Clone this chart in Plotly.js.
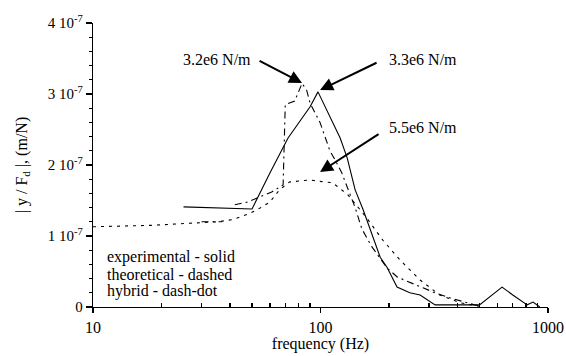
<!DOCTYPE html>
<html>
<head>
<meta charset="utf-8">
<script src="https://cdn.plot.ly/plotly-3.0.1.min.js"></script>
<style>html,body{margin:0;padding:0;background:#fff;}#chart{width:566px;height:356px;}</style>
</head>
<body>
<div id="chart"></div>
<script>
// values in units of 1e-7 m/N
const expFreq = [25, 50, 60, 72, 90, 97.5, 122, 131, 142, 154, 183, 196, 217, 247, 274, 319, 500, 628, 700, 810, 860, 920];
const expAmp  = [1.41, 1.38, 1.89, 2.38, 2.82, 3.03, 2.38, 2.10, 1.65, 1.37, 0.70, 0.56, 0.28, 0.20, 0.17, 0.03, 0.03, 0.28, 0.17, 0.03, 0.07, 0.0];

const theoFreq = [10, 18, 35, 41, 49, 54, 60, 66, 73, 90, 99, 113, 132, 160, 188, 224, 274, 334, 411, 500];
const theoAmp  = [1.13, 1.15, 1.20, 1.23, 1.32, 1.39, 1.48, 1.65, 1.76, 1.79, 1.77, 1.75, 1.58, 1.25, 0.94, 0.66, 0.38, 0.17, 0.06, 0.01];

const hybFreq = [30, 37, null, 42, 48, 54, 61, 68.5, 70, 77, 83, 87, 90, 99.5, 105, 110, 116, 124, 131, 142, 152, 168, 196, 218, 282, 319, 370, 440, 500];
const hybAmp  = [1.20, 1.20, null, 1.44, 1.48, 1.55, 1.62, 1.72, 2.85, 2.90, 3.15, 3.05, 2.87, 2.60, 2.38, 2.20, 2.07, 1.89, 1.69, 1.40, 1.10, 0.85, 0.55, 0.42, 0.27, 0.20, 0.13, 0.06, 0.01];

const yTickVals = [0, 1, 2, 3, 4];
const yTickText = ['0', '1 10<sup>-7</sup>', '2 10<sup>-7</sup>', '3 10<sup>-7</sup>', '4 10<sup>-7</sup>'];
const yMinorVals = [0.2, 0.4, 0.6, 0.8, 1.2, 1.4, 1.6, 1.8, 2.2, 2.4, 2.6, 2.8, 3.2, 3.4, 3.6, 3.8];
const xTickVals = [10, 100, 1000];
const xTickText = ['10', '100', '1000'];
const xMinorVals = [20, 30, 40, 50, 60, 70, 80, 90, 200, 300, 400, 500, 600, 700, 800, 900];
const legendLines = ['experimental - solid', 'theoretical - dashed', 'hybrid - dash-dot'];
const stiffLabels = ['3.2e6 N/m', '3.3e6 N/m', '5.5e6 N/m'];

const serif = '"Liberation Serif", "Times New Roman", serif';

const traces = [
  {x: expFreq, y: expAmp, mode: 'lines', line: {color: '#000', width: 1.1}, name: 'experimental'},
  {x: theoFreq, y: theoAmp, mode: 'lines', line: {color: '#000', width: 1.1, dash: '3px,5px'}, name: 'theoretical'},
  {x: hybFreq, y: hybAmp, mode: 'lines', connectgaps: false, line: {color: '#000', width: 1.1, dash: '7px,4px,2px,4px'}, name: 'hybrid'},
  // invisible trace that carries the overlay axes used for minor ticks
  {x: [], y: [], xaxis: 'x2', yaxis: 'y2', mode: 'lines', hoverinfo: 'skip'}
];

const legendAnn = legendLines.map((t, i) => ({
  xref: 'paper', yref: 'paper', x: 0.026, y: (307 - 257 - 17 * i) / 284,
  xanchor: 'left', yanchor: 'middle', align: 'left', showarrow: false,
  text: t, font: {family: serif, size: 16, color: '#000'}
}));

const layout = {
  width: 566, height: 356,
  margin: {l: 93, r: 18, t: 23, b: 49},
  paper_bgcolor: '#fff', plot_bgcolor: '#fff',
  showlegend: false,
  font: {family: serif, size: 15, color: '#000'},
  xaxis: {
    type: 'log', range: [1, 3],
    tickmode: 'array', tickvals: xTickVals, ticktext: xTickText,
    ticks: 'outside', ticklen: 5, tickwidth: 1.2, tickcolor: '#000',
    showline: true, linecolor: '#000', linewidth: 1.3,
    showgrid: false, zeroline: false,
    tickfont: {family: serif, size: 16, color: '#000'},
    title: {text: 'frequency (Hz)', font: {family: serif, size: 16, color: '#000'}, standoff: 2}
  },
  yaxis: {
    range: [0, 4],
    tickmode: 'array', tickvals: yTickVals, ticktext: yTickText,
    ticks: 'outside', ticklen: 6, tickwidth: 1.2, tickcolor: '#000',
    showline: true, linecolor: '#000', linewidth: 1.3,
    showgrid: false, zeroline: false,
    tickfont: {family: serif, size: 15, color: '#000'},
    title: {text: '| y / F<sub>d</sub> |, (m/N)', font: {family: serif, size: 16, color: '#000'}, standoff: 16}
  },
  xaxis2: {
    type: 'log', range: [1, 3], overlaying: 'x', anchor: 'y2', side: 'bottom',
    tickmode: 'array', tickvals: xMinorVals, ticktext: xMinorVals.map(() => ''),
    ticks: 'inside', ticklen: 4, tickwidth: 1.2, tickcolor: '#000',
    showline: false, showgrid: false, zeroline: false, showticklabels: false
  },
  yaxis2: {
    range: [0, 4], overlaying: 'y', anchor: 'x2', side: 'left',
    tickmode: 'array', tickvals: yMinorVals, ticktext: yMinorVals.map(() => ''),
    ticks: 'outside', ticklen: 3, tickwidth: 1.2, tickcolor: '#000',
    showline: false, showgrid: false, zeroline: false, showticklabels: false
  },
  annotations: legendAnn.concat([
    {x: 1.545, y: 3.48, showarrow: false, text: stiffLabels[0], font: {family: serif, size: 16, color: '#000'}},
    {x: 2.45, y: 3.48, showarrow: false, text: stiffLabels[1], font: {family: serif, size: 16, color: '#000'}},
    {x: 2.451, y: 2.535, showarrow: false, text: stiffLabels[2], font: {family: serif, size: 16, color: '#000'}},
    {x: 1.919, y: 3.155, ax: -44, ay: -23, text: '', showarrow: true, arrowhead: 2, arrowsize: 1.3, arrowwidth: 2, arrowcolor: '#000'},
    {x: 1.998, y: 3.056, ax: 58, ay: -28, text: '', showarrow: true, arrowhead: 2, arrowsize: 1.3, arrowwidth: 2, arrowcolor: '#000'},
    {x: 1.998, y: 1.90, ax: 60, ay: -39, text: '', showarrow: true, arrowhead: 2, arrowsize: 1.3, arrowwidth: 2, arrowcolor: '#000'}
  ])
};

Plotly.newPlot('chart', traces, layout, {staticPlot: true, displayModeBar: false});
</script>
</body>
</html>
